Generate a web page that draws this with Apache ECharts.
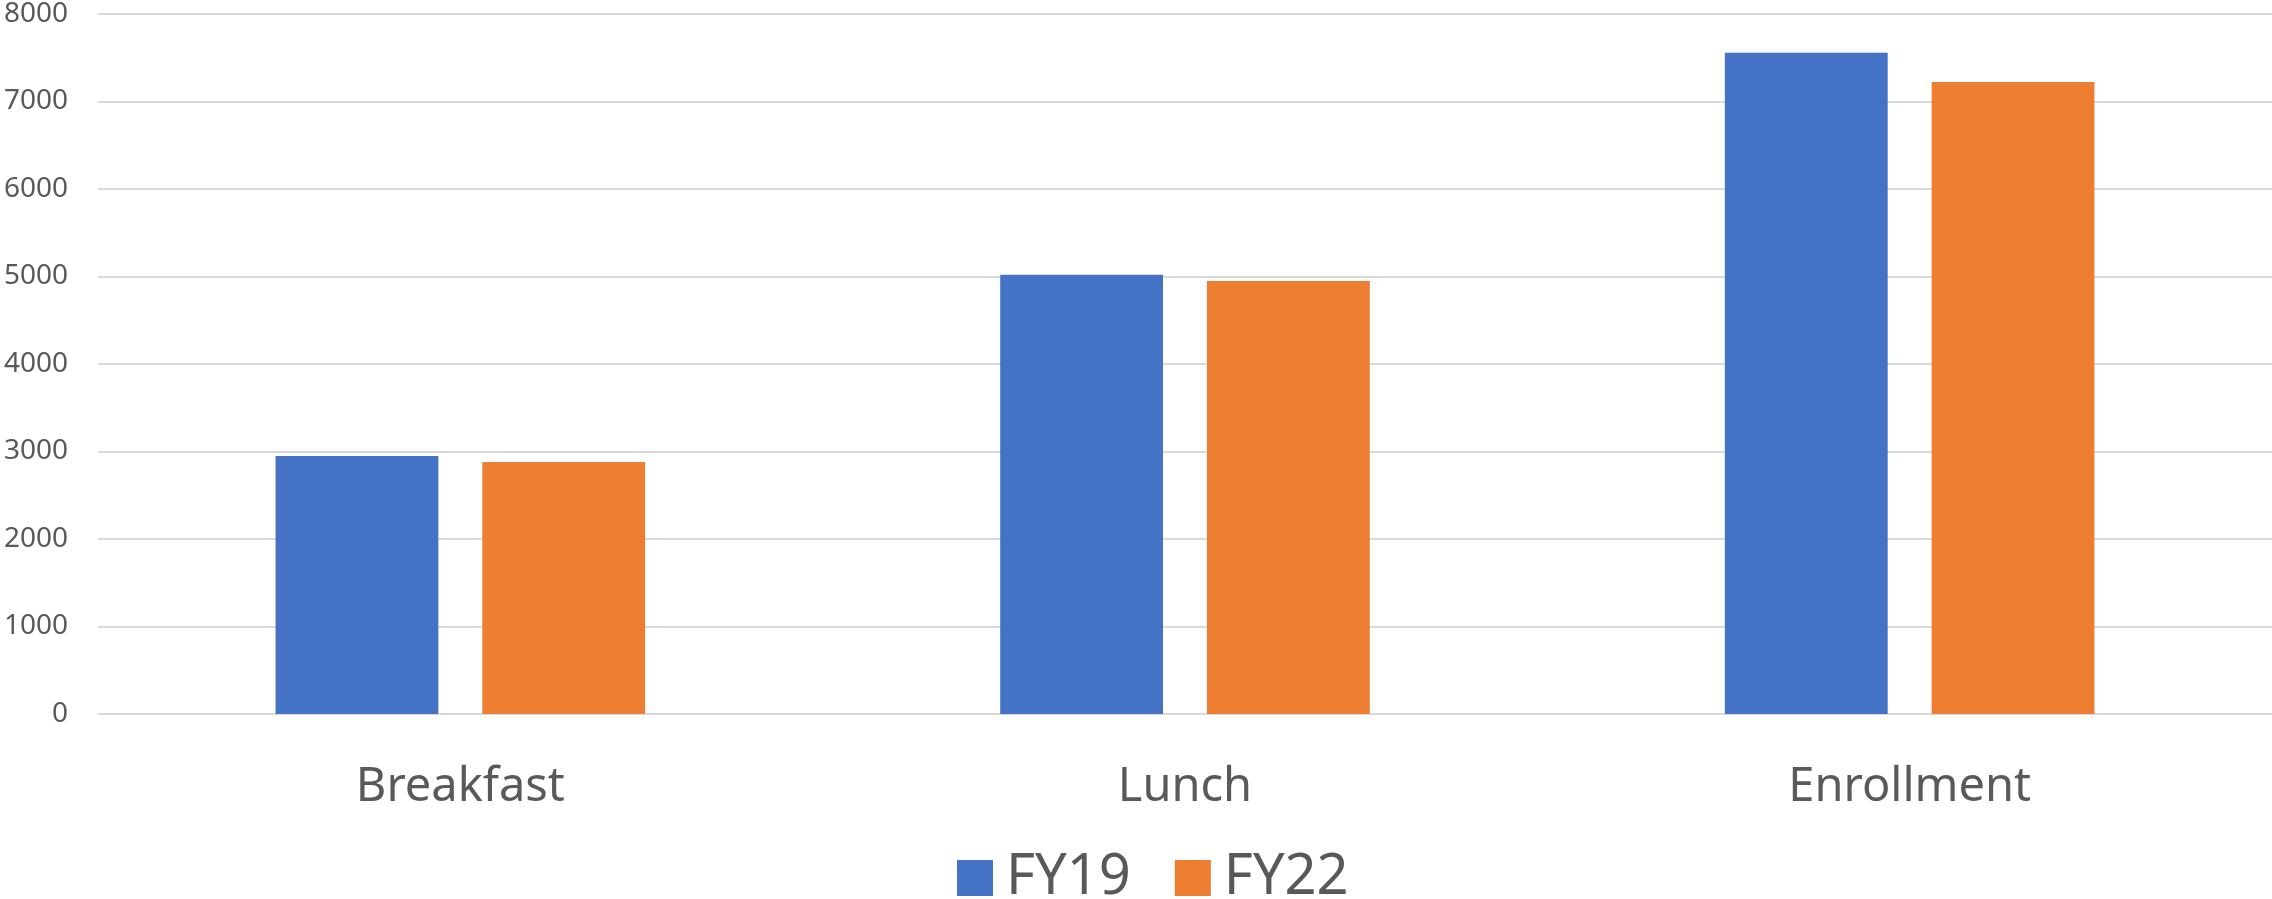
<!DOCTYPE html>
<html>
<head>
<meta charset="utf-8">
<script src="https://cdn.jsdelivr.net/npm/echarts@6/dist/echarts.min.js"></script>
<style>
html,body{margin:0;padding:0;background:#fff;}
#chart{width:2272px;height:899px;}
</style>
</head>
<body>
<div id="chart"></div>
<script>
const categories = ['Breakfast', 'Lunch', 'Enrollment'];
const seriesNames = ['FY19', 'FY22'];
const fy19 = [2950, 5020, 7556];
const fy22 = [2880, 4950, 7222];
const yTicks = [0, 1000, 2000, 3000, 4000, 5000, 6000, 7000, 8000];

const chart = echarts.init(document.getElementById('chart'), null, {renderer: 'canvas'});
const font = '"Noto Sans", "Open Sans", sans-serif';
chart.setOption({
  animation: false,
  backgroundColor: '#ffffff',
  color: ['#4472C4', '#ED7D31'],
  grid: { left: 98, right: 0, top: 12, bottom: 185, containLabel: false },
  legend: {
    data: seriesNames,
    left: 952,
    top: 845,
    itemWidth: 36,
    itemHeight: 36,
    itemGap: 44,
    icon: 'rect',
    textStyle: { fontFamily: font, fontSize: 56, color: '#595959', padding: [0, 0, 0, 8] }
  },
  xAxis: {
    type: 'category',
    data: categories,
    axisLine: { show: false },
    axisTick: { show: false },
    axisLabel: { fontFamily: font, fontSize: 47, color: '#595959', margin: 50 }
  },
  yAxis: {
    type: 'value',
    min: yTicks[0],
    max: yTicks[yTicks.length - 1],
    interval: 1000,
    axisLine: { show: false },
    axisTick: { show: false },
    axisLabel: { fontFamily: font, fontSize: 28, color: '#595959', margin: 30, formatter: v => String(v) },
    splitLine: { lineStyle: { color: '#D9D9D9', width: 2 } }
  },
  series: [
    { name: seriesNames[0], type: 'bar', data: fy19, barGap: '27%', barCategoryGap: '49%' },
    { name: seriesNames[1], type: 'bar', data: fy22, barGap: '27%', barCategoryGap: '49%' }
  ]
});
</script>
</body>
</html>
